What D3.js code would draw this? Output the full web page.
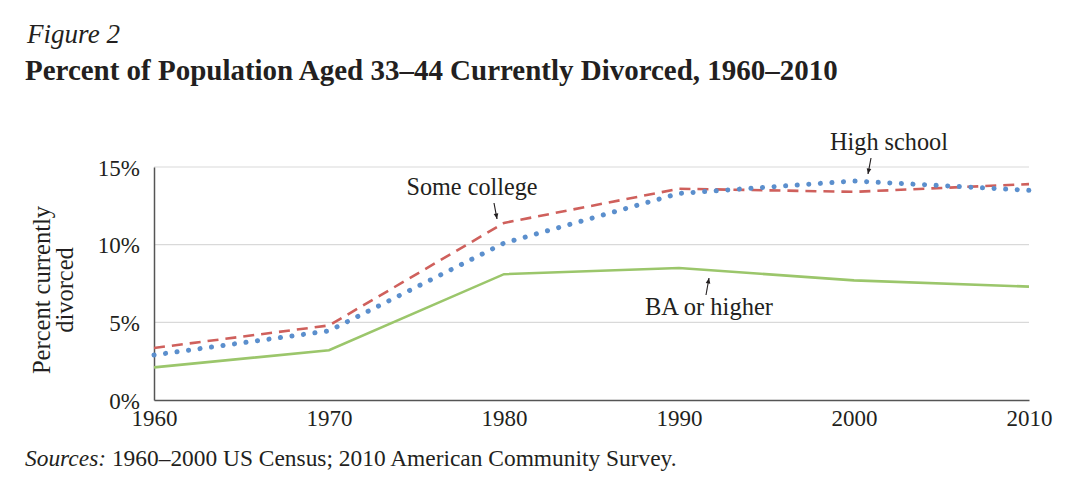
<!DOCTYPE html>
<html><head><meta charset="utf-8">
<script src="https://cdn.jsdelivr.net/npm/d3@7"></script>
<style>
body{margin:0;background:#fff;}
text{font-family:"Liberation Serif","DejaVu Serif",serif;fill:#231f20;}
</style></head>
<body><svg id="c" width="1080" height="498"></svg>
<script>
const years = [1960, 1970, 1980, 1990, 2000, 2010];
const baOrHigher = [2.1, 3.2, 8.1, 8.5, 7.7, 7.3];
const someCollege = [3.35, 4.8, 11.4, 13.6, 13.4, 13.9];
const highSchool = [2.9, 4.45, 10.1, 13.3, 14.1, 13.5];
const yTicks = [0, 5, 10, 15];

const svg = d3.select("#c");
const x = d3.scaleLinear().domain([1960, 2010]).range([154, 1029]);
const y = d3.scaleLinear().domain([0, 15]).range([400, 167]);

// scale font size so a text element reaches a target width
function fit(sel, w) {
  const n = sel.node();
  const fs = parseFloat(sel.attr("font-size"));
  const cur = n.getComputedTextLength();
  sel.attr("font-size", (fs * w / cur).toFixed(2));
  return sel;
}

fit(svg.append("text").attr("x", 27).attr("y", 43).attr("font-size", 25).attr("font-style", "italic").text("Figure 2"), 93);
fit(svg.append("text").attr("x", 25).attr("y", 80).attr("font-size", 23).attr("font-weight", "bold")
  .text("Percent of Population Aged 33–44 Currently Divorced, 1960–2010"), 813);

// gridlines
svg.append("g").selectAll("line").data(yTicks.filter(d => d > 0)).join("line")
  .attr("x1", x(1960)).attr("x2", x(2010)).attr("y1", d => y(d)).attr("y2", d => y(d))
  .attr("stroke", "#d9d9d9").attr("stroke-width", 1.2);

// y axis
const ya = svg.append("g").attr("transform", `translate(${x(1960)},0)`)
  .call(d3.axisLeft(y).tickValues(yTicks).tickFormat(d => d + "%").tickSize(0).tickPadding(14));
ya.select(".domain").attr("stroke", "#555").attr("stroke-width", 1.5);
ya.selectAll("text").attr("font-size", 23).attr("font-family", "Liberation Serif").attr("fill", "#231f20").attr("dy", "0.36em");

// x axis
const xa = svg.append("g").attr("transform", `translate(0,${y(0)})`)
  .call(d3.axisBottom(x).tickValues(years).tickFormat(d3.format("d")).tickSize(0).tickPadding(10));
xa.select(".domain").attr("stroke", "#555").attr("stroke-width", 1.5);
xa.selectAll("text").attr("font-size", 23).attr("font-family", "Liberation Serif").attr("fill", "#231f20");

// y label
const yl = svg.append("text").attr("transform", "translate(50,290) rotate(-90)").attr("text-anchor", "middle").attr("font-size", 24.5);
yl.append("tspan").attr("x", 0).attr("dy", 0).text("Percent currently");
yl.append("tspan").attr("x", 0).attr("dy", 23).text("divorced");

const line = d3.line().x((d, i) => x(years[i])).y(d => y(d));
svg.append("path").datum(baOrHigher).attr("d", line).attr("fill", "none").attr("stroke", "#9bc66b").attr("stroke-width", 2.6);
svg.append("path").datum(someCollege).attr("d", line).attr("fill", "none").attr("stroke", "#cf605c").attr("stroke-width", 2.6).attr("stroke-dasharray", "11 7");
svg.append("path").datum(highSchool).attr("d", line).attr("fill", "none").attr("stroke", "#5b8fcd").attr("stroke-width", 5).attr("stroke-linecap", "round").attr("stroke-dasharray", "0.1 11.5");

// annotations
function ann(tx, ty, label, w, x1, y1, x2, y2) {
  fit(svg.append("text").attr("x", tx).attr("y", ty).attr("text-anchor", "middle").attr("font-size", 21).text(label), w);
  svg.append("line").attr("x1", x1).attr("y1", y1).attr("x2", x2).attr("y2", y2).attr("stroke", "#231f20").attr("stroke-width", 1.1);
  const ang = Math.atan2(y2 - y1, x2 - x1);
  const L = 6, a = 0.4;
  svg.append("path").attr("d", `M${x2},${y2}L${x2 - L*Math.cos(ang - a)},${y2 - L*Math.sin(ang - a)}L${x2 - L*Math.cos(ang + a)},${y2 - L*Math.sin(ang + a)}Z`).attr("fill", "#231f20");
}
ann(889, 150, "High school", 118, 871, 158, 868, 174);
ann(472, 195, "Some college", 131, 494, 203, 497, 219);
ann(709, 315, "BA or higher", 128, 706, 295, 709, 278);

// source
const s = svg.append("text").attr("x", 25).attr("y", 466).attr("font-size", 20);
s.append("tspan").attr("font-style", "italic").text("Sources:");
s.append("tspan").text(" 1960–2000 US Census; 2010 American Community Survey.");
fit(s, 652);
</script></body></html>
